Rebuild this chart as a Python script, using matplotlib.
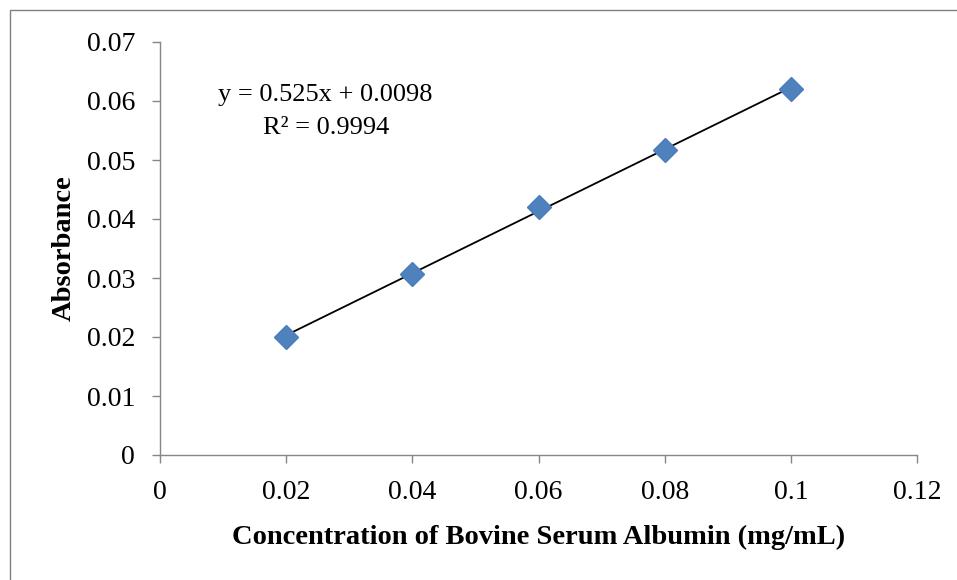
import numpy as np
import matplotlib.pyplot as plt
from matplotlib.patches import Rectangle

concentration = [0.02, 0.04, 0.06, 0.08, 0.10]
absorbance = [0.0200, 0.0307, 0.0420, 0.0517, 0.0620]
slope = 0.525
intercept = 0.0098
x_ticks = [0, 0.02, 0.04, 0.06, 0.08, 0.1, 0.12]
x_tick_labels = ["0", "0.02", "0.04", "0.06", "0.08", "0.1", "0.12"]
y_ticks = [0, 0.01, 0.02, 0.03, 0.04, 0.05, 0.06, 0.07]
y_tick_labels = ["0", "0.01", "0.02", "0.03", "0.04", "0.05", "0.06", "0.07"]

plt.rcParams["font.family"] = ["Liberation Serif", "DejaVu Serif"]

fig = plt.figure(figsize=(9.57, 5.8), dpi=100)
# outer chart frame (only left and top visible in the crop)
fig.patches.append(Rectangle((10 / 957, -0.1), 1.2, 1 - 10 / 580 + 0.1, transform=fig.transFigure,
                             fill=False, edgecolor="#7f7f7f", linewidth=1.0))

ax = fig.add_axes([160 / 957, 1 - 455 / 580, (917 - 160) / 957, (455 - 42) / 580])
ax.set_xlim(0, 0.12)
ax.set_ylim(0, 0.07)

fit_x = np.array([concentration[0], concentration[-1]])
ax.plot(fit_x, slope * fit_x + intercept, color="black", linewidth=1.3, zorder=2)
ax.plot(concentration, absorbance, "D", color="#4F81BD", markeredgecolor="#4A7EBB",
        markersize=12.5, zorder=3, clip_on=False)

for side in ["top", "right"]:
    ax.spines[side].set_visible(False)
for side in ["left", "bottom"]:
    ax.spines[side].set_color("#868686")
    ax.spines[side].set_linewidth(1.0)

ax.set_xticks(x_ticks)
ax.set_xticklabels(x_tick_labels)
ax.set_yticks(y_ticks)
ax.set_yticklabels(y_tick_labels)
ax.tick_params(axis="both", direction="out", length=6, width=1.0, color="#868686",
               labelsize=20)
ax.tick_params(axis="x", pad=12)
ax.tick_params(axis="y", pad=12)

ax.set_xlabel("Concentration of Bovine Serum Albumin (mg/mL)", fontsize=20.5, fontweight="bold", labelpad=14)
ax.set_ylabel("Absorbance", fontsize=20.5, fontweight="bold", labelpad=7)

ax.text(0.02624, 0.0610, "y = 0.525x + 0.0098", fontsize=19, ha="center", va="center")
ax.text(0.02634, 0.05542, "R² = 0.9994", fontsize=19, ha="center", va="center")

fig.savefig("out.png", dpi=100)
